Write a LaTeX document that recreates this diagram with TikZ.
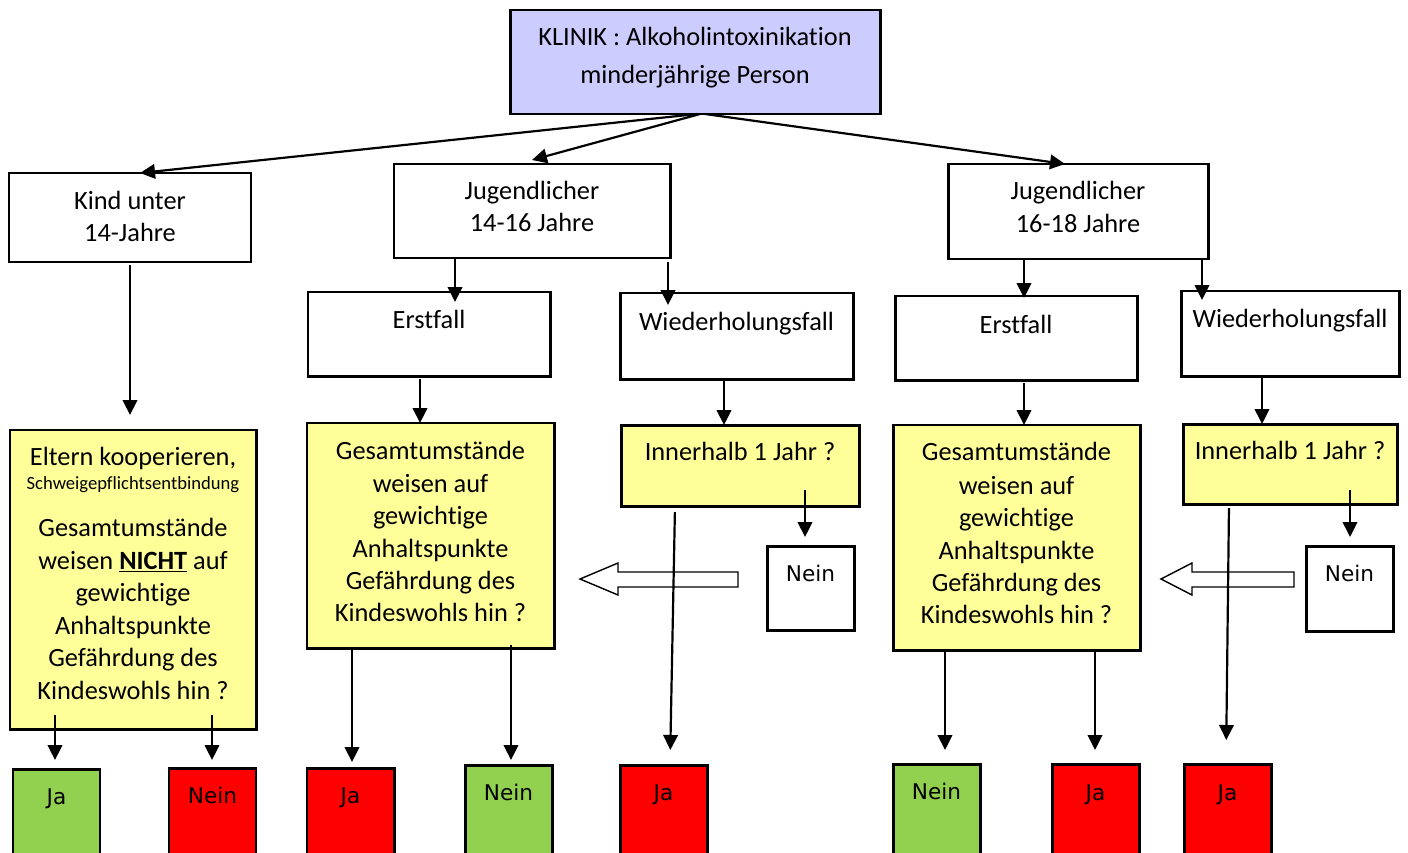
\documentclass[tikz,border=0pt]{standalone}
\usepackage{fontspec}
\setmainfont{Carlito}[Ligatures=NoCommon]
\newfontfamily\dvs{DejaVu Sans}
\usetikzlibrary{arrows.meta}
\definecolor{lav}{HTML}{CCCCFF}
\definecolor{yel}{HTML}{FFFF99}
\definecolor{grn}{HTML}{92D050}
\definecolor{rd}{HTML}{FF0000}
\newcommand\bx[6]{%
  \pgfmathsetmacro\bxw{(#4-#2)*0.02}\pgfmathsetmacro\bxh{(#5-#3)*0.02}%
  \pgfmathsetmacro\bxcx{(#2+#4)/2}\pgfmathsetmacro\bxcy{(#3+#5)/2}%
  \node[#6, minimum width=\bxw cm, minimum height=\bxh cm] (#1) at (\bxcx,\bxcy) {};}
\newcommand\tl[3]{\node[txt] at (#1.center |- 0,#2) {#3};}
\newcommand\dl[3]{\node[dtxt] at (#1.center |- 0,#2) {#3};}
\tikzset{
  box/.style={draw, line width=1.7pt, inner sep=0pt, outer sep=0pt},
  wbox/.style={box, fill=white},
  ybox/.style={box, fill=yel},
  lbox/.style={box, fill=lav},
  gbox/.style={box, fill=grn},
  rbox/.style={box, fill=rd},
  arr/.style={line width=1.25pt, -{Triangle[length=0.3cm,width=0.29cm]}},
  hollow/.style={draw, line width=0.8pt, fill=white, line join=miter},
  txt/.style={anchor=base, inner sep=0pt, font=\fontsize{15}{18}\selectfont},
  stxt/.style={anchor=base, inner sep=0pt, font=\fontsize{10.6}{12}\selectfont},
  dtxt/.style={anchor=base, inner sep=0pt, font=\dvs\fontsize{12.3}{14}\selectfont},
}
\begin{document}
\begin{tikzpicture}[x=0.02cm, y=-0.02cm]
\useasboundingbox (0,0) rectangle (1408,852);
\clip (0,0) rectangle (1408,852);
\fill[white] (0,0) rectangle (1408,852);

% boxes
\bx{top}{510}{10}{880}{114}{lbox}
\bx{kind}{9}{173}{251}{262}{wbox}
\bx{j1}{394}{164}{670}{258}{wbox}
\bx{j2}{948}{164}{1208}{259}{wbox}
\bx{e1}{308}{292}{550}{376}{wbox}
\bx{w1}{620}{293}{853}{379}{wbox}
\bx{e2}{895}{296}{1137}{380}{wbox}
\bx{w2}{1181}{291}{1399}{376}{wbox}
\bx{eltern}{10}{430}{256}{729}{ybox}
\bx{g1}{307}{423}{554}{648}{ybox}
\bx{i1}{621}{425}{859}{506}{ybox}
\bx{n1}{767}{546}{854}{630}{wbox}
\bx{g2}{893}{425}{1140}{650}{ybox}
\bx{i2}{1183}{424}{1397}{504}{ybox}
\bx{n2}{1306}{546}{1393}{631}{wbox}
\bx{b1}{13}{769}{100}{880}{gbox}
\bx{b2}{169}{768}{256}{880}{rbox}
\bx{b3}{307}{768}{394}{880}{rbox}
\bx{b4}{465}{765}{552}{880}{gbox}
\bx{b5}{620}{765}{707}{880}{rbox}
\bx{b6}{893}{764}{980}{880}{gbox}
\bx{b7}{1052}{764}{1139}{880}{rbox}
\bx{b8}{1184}{764}{1271}{880}{rbox}

% texts
\tl{top}{45}{KLINIK : Alkoholintoxinikation}
\tl{top}{83}{minderjährige Person}
\tl{kind}{209}{Kind unter}
\tl{kind}{241}{14-Jahre}
\tl{j1}{199}{Jugendlicher}
\tl{j1}{231}{14-16 Jahre}
\tl{j2}{199}{Jugendlicher}
\tl{j2}{232}{16-18 Jahre}
\tl{e1}{328}{Erstfall}
\tl{w1}{330}{Wiederholungsfall}
\tl{e2}{333}{Erstfall}
\tl{w2}{327}{Wiederholungsfall}
\tl{eltern}{465}{Eltern kooperieren,}
\node[stxt] at (eltern.center |- 0,489) {Schweigepflichtsentbindung};
\tl{eltern}{536}{Gesamtumstände}
\tl{eltern}{569}{weisen \textbf{\underline{NICHT}} auf}
\tl{eltern}{601}{gewichtige}
\tl{eltern}{634}{Anhaltspunkte}
\tl{eltern}{666}{Gefährdung des}
\tl{eltern}{699}{Kindeswohls hin ?}
\tl{g1}{459}{Gesamtumstände}
\tl{g1}{492}{weisen auf}
\tl{g1}{524}{gewichtige}
\tl{g1}{557}{Anhaltspunkte}
\tl{g1}{589}{Gefährdung des}
\tl{g1}{621}{Kindeswohls hin ?}
\tl{g2}{460}{Gesamtumstände}
\tl{g2}{494}{weisen auf}
\tl{g2}{526}{gewichtige}
\tl{g2}{559}{Anhaltspunkte}
\tl{g2}{591}{Gefährdung des}
\tl{g2}{623}{Kindeswohls hin ?}
\tl{i1}{460}{Innerhalb 1 Jahr ?}
\tl{i2}{459}{Innerhalb 1 Jahr ?}
\dl{n1}{581}{Nein}
\dl{n2}{581}{Nein}
\dl{b1}{804}{Ja}
\dl{b2}{803}{Nein}
\dl{b3}{803}{Ja}
\dl{b4}{800}{Nein}
\dl{b5}{800}{Ja}
\dl{b6}{799}{Nein}
\dl{b7}{800}{Ja}
\dl{b8}{800}{Ja}

% hollow block arrows (Nein -> Gesamtumstände)
\draw[hollow] (738,572) -- (618,572) -- (618,563) -- (580,579) -- (618,595) -- (618,587) -- (738,587) -- cycle;
\draw[hollow] (1294,572) -- (1192,572) -- (1192,563) -- (1161,579) -- (1192,595) -- (1192,587) -- (1294,587) -- cycle;

% connectors
\draw[arr] ([xshift=0.04cm]top.south) -- (140,0 |- kind.north);
\draw[arr] ([xshift=0.1cm]top.south) -- ([yshift=0.08cm]j1.north);
\draw[arr] ([xshift=0.2cm]top.south) -- (1065,0 |- j2.north);
\draw[arr, shorten <=0.06cm, shorten >=0.3cm] (kind.south) -- (kind.south |- eltern.north);
\draw[arr, shorten >=-0.2cm] (455,0 |- j1.south) -- (455,0 |- e1.north);
\draw[arr, shorten <=0.08cm, shorten >=-0.24cm] (668,0 |- j1.south) -- (668,0 |- w1.north);
\draw[arr, shorten >=-0.04cm] (1024,0 |- j2.south) -- (1024,0 |- e2.north);
\draw[arr, shorten >=-0.18cm] (1202,0 |- j2.south) -- (1202,0 |- w2.north);
\draw[arr, shorten <=0.06cm] (420,0 |- e1.south) -- (420,0 |- g1.north);
\draw[arr, shorten <=0.04cm] (724,0 |- w1.south) -- (724,0 |- i1.north);
\draw[arr, shorten <=0.06cm] (1024,0 |- e2.south) -- (1024,0 |- g2.north);
\draw[arr, shorten <=0.04cm] (1262,0 |- w2.south) -- (1262,0 |- i2.north);
\draw[arr, shorten <=-0.32cm, shorten >=0.18cm] (805,0 |- i1.south) -- (805,0 |- n1.north);
\draw[arr, shorten <=-0.28cm, shorten >=0.18cm] (1350,0 |- i2.south) -- (1350,0 |- n2.north);
\draw[arr, shorten <=0.12cm, shorten >=0.3cm] (675,0 |- i1.south) -- (670,0 |- b5.north);
\draw[arr, shorten <=0.08cm, shorten >=0.48cm] (1229,0 |- i2.south) -- (1226,0 |- b8.north);
\draw[arr, shorten <=-0.28cm, shorten >=0.18cm] (55,0 |- eltern.south) -- (55,0 |- b1.north);
\draw[arr, shorten <=-0.28cm, shorten >=0.16cm] (212,0 |- eltern.south) -- (212,0 |- b2.north);
\draw[arr, shorten <=0.04cm, shorten >=0.12cm] (352,0 |- g1.south) -- (352,0 |- b3.north);
\draw[arr, shorten <=-0.06cm, shorten >=0.1cm] (511,0 |- g1.south) -- (511,0 |- b4.north);
\draw[arr, shorten >=0.28cm] (945,0 |- g2.south) -- (945,0 |- b6.north);
\draw[arr, shorten >=0.28cm] (1095,0 |- g2.south) -- (1095,0 |- b7.north);
\end{tikzpicture}
\end{document}
